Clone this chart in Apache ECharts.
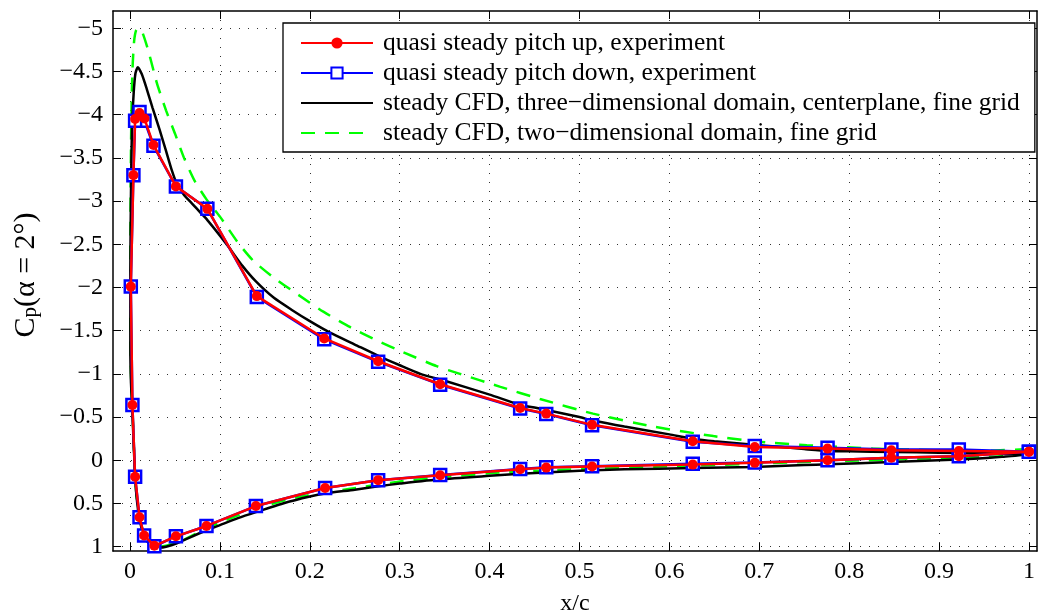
<!DOCTYPE html>
<html>
<head>
<meta charset="utf-8">
<script src="https://cdn.jsdelivr.net/npm/echarts@6/dist/echarts.min.js"></script>
<style>
html,body{margin:0;padding:0;background:#fff;}
#chart{width:1039px;height:616px;}
</style>
</head>
<body>
<div id="chart"></div>
<script>
// ---------- data ----------
const xTicks = [0, 0.1, 0.2, 0.3, 0.4, 0.5, 0.6, 0.7, 0.8, 0.9, 1];
const yTicks = [-5, -4.5, -4, -3.5, -3, -2.5, -2, -1.5, -1, -0.5, 0, 0.5, 1];

const seriesNames = [
  'quasi steady pitch up, experiment',
  'quasi steady pitch down, experiment',
  'steady CFD, three\u2212dimensional domain, centerplane, fine grid',
  'steady CFD, two\u2212dimensional domain, fine grid'
];

// experiment taps: upper surface (trailing edge -> leading edge), lower surface (leading edge -> trailing edge)
const expUpperX = [1.0, 0.922, 0.847, 0.776, 0.695, 0.626, 0.514, 0.463, 0.434, 0.345, 0.276, 0.216, 0.141, 0.086, 0.051, 0.026, 0.016, 0.0105, 0.0056, 0.0037, 0.0008];
const expLowerX = [0.0026, 0.0056, 0.0105, 0.0156, 0.027, 0.051, 0.085, 0.140, 0.217, 0.276, 0.345, 0.434, 0.463, 0.514, 0.626, 0.695, 0.776, 0.847, 0.922, 1.0];

const pitchUpCpUpper = [-0.10, -0.108, -0.116, -0.135, -0.154, -0.22, -0.41, -0.54, -0.605, -0.88, -1.146, -1.41, -1.90, -2.91, -3.17, -3.65, -3.955, -4.02, -3.95, -3.30, -2.01];
const pitchUpCpLower = [-0.64, 0.19, 0.66, 0.87, 0.99, 0.88, 0.76, 0.53, 0.32, 0.23, 0.174, 0.104, 0.085, 0.073, 0.05, 0.03, 0.0, -0.03, -0.046, -0.10];

const pitchDownCpUpper = [-0.10, -0.125, -0.125, -0.145, -0.165, -0.215, -0.405, -0.535, -0.60, -0.875, -1.14, -1.40, -1.89, -2.91, -3.17, -3.64, -3.93, -4.03, -3.93, -3.30, -2.01];
const pitchDownCpLower = [-0.64, 0.19, 0.66, 0.87, 0.995, 0.88, 0.76, 0.53, 0.32, 0.23, 0.17, 0.10, 0.08, 0.07, 0.04, 0.025, 0.0, -0.03, -0.046, -0.10];

// steady CFD, 3D domain, centerplane
const cfd3dUpperX = [1.0, 0.95, 0.9, 0.85, 0.8, 0.776, 0.75, 0.7, 0.65, 0.626, 0.6, 0.55, 0.514, 0.5, 0.45, 0.434, 0.4, 0.35, 0.323, 0.3, 0.278, 0.25, 0.222, 0.2, 0.18, 0.16, 0.14, 0.125, 0.111, 0.1, 0.086, 0.078, 0.07, 0.06, 0.052, 0.046, 0.04, 0.033, 0.025, 0.0185, 0.013, 0.0086, 0.006, 0.004, 0.002, 0.001, 0.0003];
const cfd3dUpperCp = [-0.07, -0.08, -0.088, -0.096, -0.104, -0.108, -0.13, -0.175, -0.22, -0.25, -0.30, -0.39, -0.463, -0.50, -0.61, -0.64, -0.76, -0.92, -1.0, -1.10, -1.20, -1.34, -1.48, -1.61, -1.74, -1.88, -2.07, -2.25, -2.45, -2.6, -2.78, -2.87, -2.96, -3.07, -3.2, -3.37, -3.58, -3.82, -4.08, -4.3, -4.47, -4.55, -4.48, -4.25, -3.8, -3.1, -2.2];
const cfd3dLowerX = [0.0003, 0.001, 0.0026, 0.0056, 0.008, 0.0105, 0.014, 0.018, 0.022, 0.027, 0.033, 0.04, 0.052, 0.065, 0.085, 0.1, 0.12, 0.14, 0.17, 0.2, 0.217, 0.25, 0.276, 0.3, 0.345, 0.4, 0.434, 0.5, 0.55, 0.626, 0.694, 0.75, 0.776, 0.847, 0.922, 0.97, 1.0];
const cfd3dLowerCp = [-1.3, -0.9, -0.55, 0.2, 0.5, 0.68, 0.83, 0.92, 0.97, 1.0, 1.01, 1.0, 0.96, 0.9, 0.81, 0.75, 0.67, 0.6, 0.5, 0.42, 0.385, 0.34, 0.30, 0.27, 0.22, 0.18, 0.157, 0.12, 0.105, 0.089, 0.077, 0.055, 0.046, 0.02, -0.008, -0.04, -0.07];

// steady CFD, 2D domain
const cfd2dUpperX = [1.0, 0.95, 0.9, 0.826, 0.753, 0.716, 0.693, 0.649, 0.582, 0.515, 0.456, 0.412, 0.367, 0.341, 0.304, 0.274, 0.245, 0.215, 0.185, 0.159, 0.137, 0.12, 0.1, 0.085, 0.072, 0.06, 0.05, 0.04, 0.03, 0.02, 0.013, 0.0093, 0.0065, 0.0045, 0.003, 0.0018, 0.001, 0.0004];
const cfd2dUpperCp = [-0.13, -0.11, -0.116, -0.135, -0.175, -0.2, -0.22, -0.28, -0.39, -0.54, -0.71, -0.85, -1.0, -1.09, -1.25, -1.39, -1.54, -1.72, -1.93, -2.12, -2.31, -2.52, -2.82, -3.02, -3.23, -3.5, -3.78, -4.05, -4.36, -4.75, -4.97, -5.0, -4.97, -4.85, -4.6, -4.2, -3.6, -2.6];
const cfd2dLowerX = [0.0004, 0.001, 0.0026, 0.0056, 0.008, 0.0105, 0.015, 0.02, 0.026, 0.033, 0.04, 0.052, 0.06, 0.085, 0.1, 0.14, 0.185, 0.245, 0.304, 0.352, 0.415, 0.482, 0.526, 0.597, 0.68, 0.75, 0.82, 0.886, 0.95, 0.986, 1.0];
const cfd2dLowerCp = [-1.5, -1.0, -0.6, 0.2, 0.5, 0.68, 0.86, 0.95, 0.99, 1.0, 0.99, 0.95, 0.92, 0.79, 0.72, 0.56, 0.43, 0.33, 0.24, 0.19, 0.14, 0.11, 0.095, 0.07, 0.045, 0.02, 0.0, -0.02, -0.04, -0.06, -0.13];

// ---------- build ----------
function loop(ux, uy, lx, ly) {
  const out = [];
  for (let i = 0; i < ux.length; i++) out.push([ux[i], uy[i]]);
  for (let i = 0; i < lx.length; i++) out.push([lx[i], ly[i]]);
  return out;
}
const FONT = 'Liberation Serif';
const minus = v => String(v).replace('-', '\u2212');

const chart = echarts.init(document.getElementById('chart'), null, {renderer: 'canvas'});

const gridLine = {show: true, lineStyle: {color: '#333', width: 1, type: [1, 8]}};
const axisLine = {show: true, onZero: false, lineStyle: {color: '#000', width: 1.5}};
const tickStyle = {color: '#000', width: 1};

const option = {
  animation: false,
  backgroundColor: '#fff',
  textStyle: {fontFamily: FONT, color: '#000'},
  grid: {left: 113, right: 2, top: 11, bottom: 65, outerBoundsMode: 'none', containLabel: false},
  legend: {
    data: [
      {name: seriesNames[0]},
      {name: seriesNames[1]},
      {name: seriesNames[2], itemStyle: {opacity: 0}},
      {name: seriesNames[3], itemStyle: {opacity: 0}}
    ],
    orient: 'vertical',
    left: 283, top: 23,
    padding: [7, 15, 6, 17],
    itemWidth: 72, itemHeight: 14, itemGap: 4,
    borderColor: '#000', borderWidth: 1.3,
    backgroundColor: '#fff',
    selectedMode: false,
    textStyle: {fontFamily: FONT, fontSize: 25.5, lineHeight: 24, color: '#000', padding: [0, 0, 0, 5]}
  },
  xAxis: [{
    type: 'value', position: 'bottom', min: -0.019, max: 1.009,
    name: 'x/c', nameLocation: 'middle', nameGap: 41, nameMoveOverlap: false,
    nameTextStyle: {fontFamily: FONT, fontSize: 24, color: '#000'},
    axisLine: axisLine,
    axisTick: {show: true, inside: true, length: 8, customValues: xTicks, lineStyle: tickStyle},
    axisLabel: {show: true, customValues: xTicks, margin: 9, fontFamily: FONT, fontSize: 24, color: '#000', formatter: v => minus(v)},
    splitLine: gridLine
  }, {
    type: 'value', position: 'top', min: -0.019, max: 1.009,
    axisLine: axisLine,
    axisTick: {show: true, inside: true, length: 8, customValues: xTicks, lineStyle: tickStyle},
    axisLabel: {show: false},
    splitLine: {show: false}
  }],
  yAxis: [{
    type: 'value', position: 'left', inverse: true, min: -5.2, max: 1.05,
    name: '{n|C}{sub|p}{n|(\u03b1 = 2\u00b0)}', nameLocation: 'middle', nameRotate: 90, nameGap: 72, nameMoveOverlap: false,
    nameTextStyle: {
      fontFamily: FONT, fontSize: 30, color: '#000',
      padding: [0, 0, 0, 12],
      rich: {
        n: {fontFamily: FONT, fontSize: 30, color: '#000', verticalAlign: 'top', lineHeight: 30},
        sub: {fontFamily: FONT, fontSize: 21, color: '#000', verticalAlign: 'bottom', lineHeight: 21, padding: [19, 0, 0, 0]}
      }
    },
    axisLine: axisLine,
    axisTick: {show: true, inside: true, length: 8, customValues: yTicks, lineStyle: tickStyle},
    axisLabel: {show: true, customValues: yTicks, margin: 10, fontFamily: FONT, fontSize: 24, color: '#000', formatter: v => minus(v)},
    splitLine: gridLine
  }, {
    type: 'value', position: 'right', inverse: true, min: -5.2, max: 1.05,
    axisLine: axisLine,
    axisTick: {show: true, inside: true, length: 8, customValues: yTicks, lineStyle: tickStyle},
    axisLabel: {show: false},
    splitLine: {show: false}
  }],
  series: [
    {
      name: seriesNames[3], type: 'line', z: 2, xAxisIndex: 0, yAxisIndex: 0,
      data: loop(cfd2dUpperX, cfd2dUpperCp, cfd2dLowerX, cfd2dLowerCp),
      symbol: 'none', smooth: 0.2,
      color: '#00ff00',
      lineStyle: {color: '#00ff00', width: 2.5, type: [14, 10]}
    },
    {
      name: seriesNames[2], type: 'line', z: 3, xAxisIndex: 0, yAxisIndex: 0,
      data: loop(cfd3dUpperX, cfd3dUpperCp, cfd3dLowerX, cfd3dLowerCp),
      symbol: 'none', smooth: 0.2,
      color: '#000000',
      lineStyle: {color: '#000000', width: 2.5}
    },
    {
      name: seriesNames[1], type: 'line', z: 4, xAxisIndex: 0, yAxisIndex: 0,
      data: loop(expUpperX, pitchDownCpUpper, expLowerX, pitchDownCpLower),
      symbol: 'rect', symbolSize: 12,
      color: '#0000ff',
      itemStyle: {color: '#ffffff', borderColor: '#0000ff', borderWidth: 2.5},
      lineStyle: {color: '#0000ff', width: 2.5}
    },
    {
      name: seriesNames[0], type: 'line', z: 5, xAxisIndex: 0, yAxisIndex: 0,
      data: loop(expUpperX, pitchUpCpUpper, expLowerX, pitchUpCpLower),
      symbol: 'circle', symbolSize: 10,
      color: '#ff0000',
      itemStyle: {color: '#ff0000', borderWidth: 0},
      lineStyle: {color: '#ff0000', width: 2.5}
    }
  ]
};
chart.setOption(option);
</script>
</body>
</html>
